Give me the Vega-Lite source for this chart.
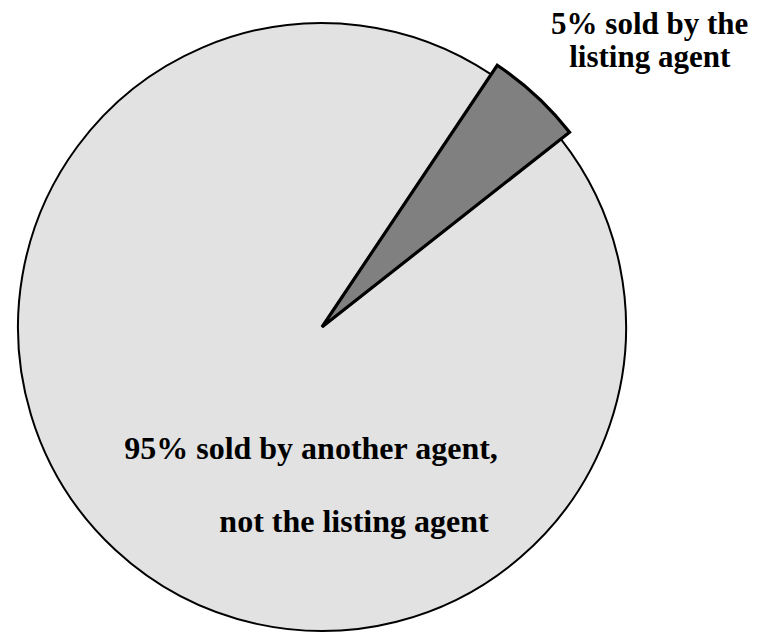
{
  "$schema": "https://vega.github.io/schema/vega-lite/v6.json",
  "width": 644,
  "height": 654,
  "autosize": "none",
  "padding": {"left": 0, "top": 0, "right": 128, "bottom": 0},
  "background": "white",
  "config": {"view": {"stroke": null}},
  "data": {
    "values": [
      {"category": "sold by the listing agent", "value": 5, "line1": "5% sold by the", "line2": "listing agent"},
      {"category": "sold by another agent", "value": 95, "line1": "95% sold by another agent,", "line2": "not the listing agent"}
    ]
  },
  "transform": [
    {"stack": "value", "groupby": [], "sort": [{"field": "value", "order": "ascending"}], "as": ["v0", "v1"]}
  ],
  "layer": [
    {
      "transform": [{"filter": "datum.category === 'sold by another agent'"}],
      "mark": {"type": "arc", "fill": "#e2e2e2", "stroke": "black", "strokeWidth": 2, "outerRadius": 304},
      "encoding": {
        "theta": {"field": "v0", "type": "quantitative", "scale": {"domain": [0, 100], "range": [0.59, 6.8732]}},
        "theta2": {"field": "v1"}
      }
    },
    {
      "transform": [{"filter": "datum.category === 'sold by the listing agent'"}],
      "mark": {"type": "arc", "fill": "#808080", "stroke": "black", "strokeWidth": 3.2, "strokeJoin": "miter", "outerRadius": 315},
      "encoding": {
        "theta": {"field": "v0", "type": "quantitative"},
        "theta2": {"field": "v1"}
      }
    },
    {
      "transform": [{"filter": "datum.category === 'sold by the listing agent'"}],
      "mark": {"type": "text", "font": "Liberation Serif", "fontWeight": "bold", "fontSize": 31, "align": "center", "baseline": "alphabetic", "radius": 350, "dx": 133, "dy": -2, "color": "black"},
      "encoding": {
        "theta": {"field": "v0", "type": "quantitative"},
        "text": {"field": "line1"}
      }
    },
    {
      "transform": [{"filter": "datum.category === 'sold by the listing agent'"}],
      "mark": {"type": "text", "font": "Liberation Serif", "fontWeight": "bold", "fontSize": 31, "align": "center", "baseline": "alphabetic", "radius": 350, "dx": 133, "dy": 31, "color": "black"},
      "encoding": {
        "theta": {"field": "v0", "type": "quantitative"},
        "text": {"field": "line2"}
      }
    },
    {
      "transform": [{"filter": "datum.category === 'sold by another agent'"}],
      "mark": {"type": "text", "font": "Liberation Serif", "fontWeight": "bold", "fontSize": 32, "align": "center", "baseline": "alphabetic", "radius": 0, "dx": -11, "dy": 132, "color": "black"},
      "encoding": {
        "theta": {"field": "v0", "type": "quantitative"},
        "text": {"field": "line1"}
      }
    },
    {
      "transform": [{"filter": "datum.category === 'sold by another agent'"}],
      "mark": {"type": "text", "font": "Liberation Serif", "fontWeight": "bold", "fontSize": 32, "align": "center", "baseline": "alphabetic", "radius": 0, "dx": 32, "dy": 205, "color": "black"},
      "encoding": {
        "theta": {"field": "v0", "type": "quantitative"},
        "text": {"field": "line2"}
      }
    }
  ]
}
